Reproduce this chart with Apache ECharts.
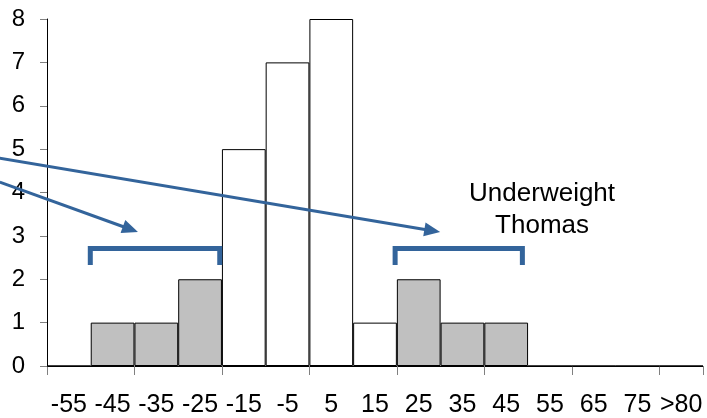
<!DOCTYPE html>
<html>
<head>
<meta charset="utf-8">
<script src="https://cdn.jsdelivr.net/npm/echarts@6/dist/echarts.min.js"></script>
<style>
  html, body { margin: 0; padding: 0; background: #fff; }
  #chart { width: 707px; height: 418px; }
</style>
</head>
<body>
<div id="chart"></div>
<script>
// Histogram bins (labels) and counts
const binLabels = ['-55', '-45', '-35', '-25', '-15', '-5', '5', '15', '25', '35', '45', '55', '65', '75', '>80'];
const counts = [0, 1, 1, 2, 5, 7, 8, 1, 2, 1, 1, 0, 0, 0, 0];
// Bins that fall in the highlighted tails
const highlighted = [false, true, true, true, false, false, false, false, true, true, true, false, false, false, false];
const yTicks = [0, 1, 2, 3, 4, 5, 6, 7, 8];

// Annotation geometry in data units (x: bin position 0..15, y: count)
const brackets = [
  { from: 0.99, to: 3.95, top: 2.71, foot: 2.33 },
  { from: 7.96, to: 10.87, top: 2.71, foot: 2.33 }
];
const arrows = [
  { x0: -1.08, y0: 4.24, x1: 2.08, y1: 3.09 },
  { x0: -1.08, y0: 4.79, x1: 8.99, y1: 3.09 }
];
const noteText = 'Underweight\nThomas';
const notePos = [11.32, 3.6];

const FONT = 'Liberation Sans, Arial, sans-serif';
const BLUE = '#33649b';

const chart = echarts.init(document.getElementById('chart'));
chart.setOption({
  animation: false,
  backgroundColor: '#fff',
  grid: { left: 47, right: 4, top: 19, bottom: 52, containLabel: false },
  xAxis: [
    {
      type: 'category',
      data: binLabels,
      boundaryGap: true,
      axisLine: { lineStyle: { color: '#000', width: 1 } },
      axisTick: { show: true, interval: 1, length: 9, lineStyle: { color: '#808080' } },
      axisLabel: { interval: 0, color: '#000', fontSize: 25, fontFamily: FONT, margin: 27 },
      splitLine: { show: false }
    },
    { type: 'value', min: 0, max: 15, show: false }
  ],
  yAxis: {
    type: 'value',
    min: yTicks[0],
    max: yTicks[yTicks.length - 1],
    interval: 1,
    axisLine: { show: true, lineStyle: { color: '#000', width: 1 } },
    axisTick: { show: true, length: 7, lineStyle: { color: '#808080' } },
    axisLabel: { color: '#000', fontSize: 24, fontFamily: FONT, margin: 22 },
    splitLine: { show: false }
  },
  series: [{
    type: 'bar',
    barCategoryGap: 0,
    data: counts.map((v, i) => ({
      value: v,
      itemStyle: {
        color: highlighted[i] ? '#c0c0c0' : '#ffffff',
        borderColor: '#000',
        borderWidth: 1
      }
    }))
  }]
});

// Overlay brackets, arrows and the note, positioned through the axes
function px(x, y) {
  return chart.convertToPixel({ xAxisIndex: 1, yAxisIndex: 0 }, [x, y]);
}
const elements = [];
brackets.forEach(b => {
  elements.push({
    type: 'polyline',
    shape: { points: [px(b.from, b.foot), px(b.from, b.top), px(b.to, b.top), px(b.to, b.foot)] },
    style: { stroke: BLUE, lineWidth: 5, fill: null },
    z: 100
  });
});
arrows.forEach(a => {
  const p0 = px(a.x0, a.y0), p1 = px(a.x1, a.y1);
  const dx = p1[0] - p0[0], dy = p1[1] - p0[1];
  const len = Math.sqrt(dx * dx + dy * dy);
  const ux = dx / len, uy = dy / len;
  const headLen = 16, headW = 7;
  const base = [p1[0] - ux * headLen, p1[1] - uy * headLen];
  elements.push({
    type: 'line',
    shape: { x1: p0[0], y1: p0[1], x2: base[0] + ux * 2, y2: base[1] + uy * 2 },
    style: { stroke: BLUE, lineWidth: 3 },
    z: 100
  });
  elements.push({
    type: 'polygon',
    shape: { points: [p1, [base[0] - uy * headW, base[1] + ux * headW], [base[0] + uy * headW, base[1] - ux * headW]] },
    style: { fill: BLUE },
    z: 100
  });
});
const np = px(notePos[0], notePos[1]);
elements.push({
  type: 'text',
  x: np[0], y: np[1],
  style: {
    text: noteText, fill: '#000', font: '26px ' + FONT,
    align: 'center', verticalAlign: 'middle', lineHeight: 32
  },
  z: 100
});
chart.setOption({ graphic: elements });
</script>
</body>
</html>
